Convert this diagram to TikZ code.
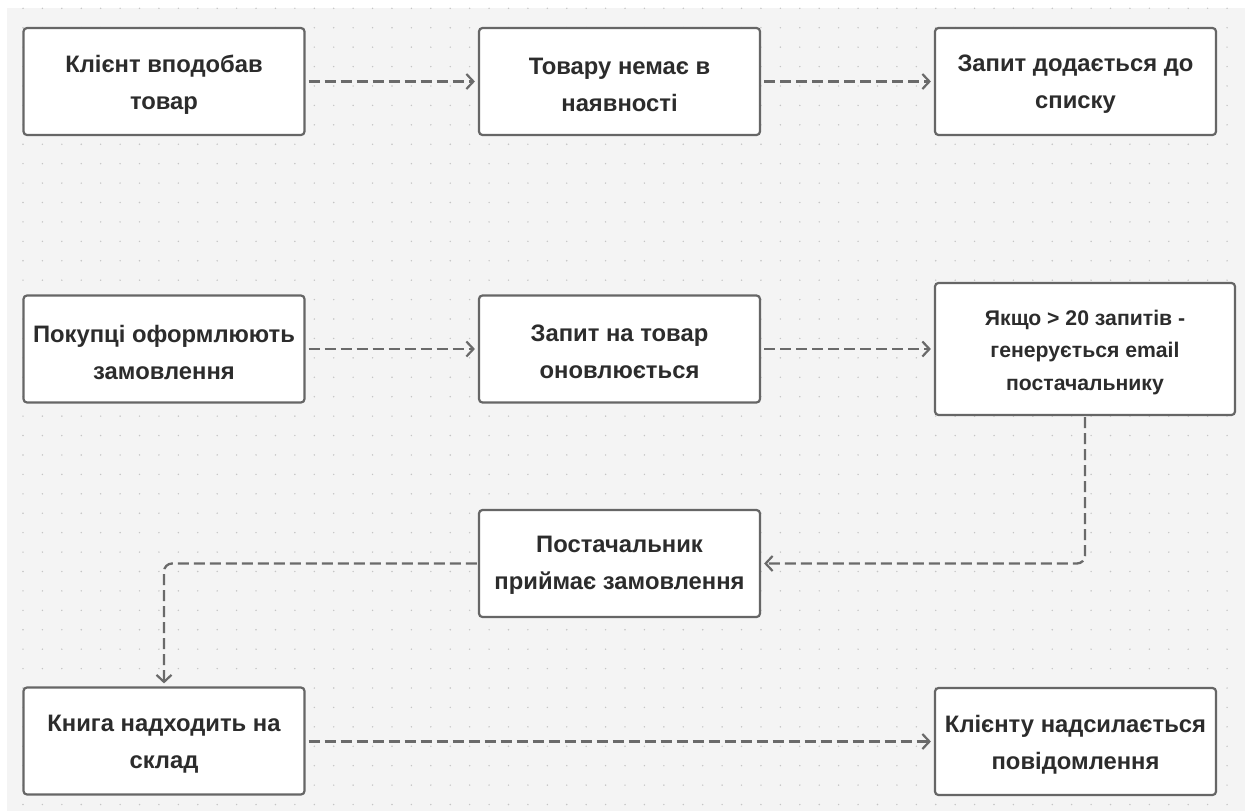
\documentclass[tikz,border=0pt]{standalone}
\usepackage{fontspec}
\setmainfont{Liberation Sans}
\usetikzlibrary{arrows.meta}
\definecolor{bggrey}{HTML}{F4F4F4}
\definecolor{dotgrey}{HTML}{C4C4C4}
\definecolor{edgegrey}{HTML}{666666}
\definecolor{linegrey}{HTML}{6A6A6A}
\definecolor{txt}{HTML}{2C2C2C}
\tikzset{
  box/.style={draw=edgegrey, line width=2.2pt, rounded corners=3.5pt, fill=white,
    inner sep=0pt, minimum width=281pt, minimum height=107pt},
  lbl/.style={inner sep=0pt, align=center, text=txt, font=\bfseries\fontsize{23.8}{37}\selectfont},
  smalllbl/.style={lbl, font=\bfseries\fontsize{21.2}{32.5}\selectfont},
  flow/.style={draw=linegrey, line width=2.3pt, dash pattern=on 11pt off 5pt,
    -{Straight Barb[length=7pt,width=15pt,line width=2.2pt]}, shorten >=3pt, shorten <=3pt,
    rounded corners=8pt}
}
\begin{document}
\begin{tikzpicture}[x=1pt,y=-1pt]
\useasboundingbox (0,0) rectangle (1245,811);
\fill[white] (0,0) rectangle (1245,811);
\fill[bggrey] (7,8) rectangle (1245,811);
\foreach \i in {0,...,62}{
  \foreach \j in {0,...,41}{
    \fill[dotgrey] ({23+\i*19.42},{8.3+\j*19.42}) circle (0.8pt);
  }
}
\node[box] (b1) at (164,81.5) {};
\node[box] (b2) at (619.5,81.5) {};
\node[box] (b3) at (1075.5,81.5) {};
\node[box] (b4) at (164,349) {};
\node[box] (b5) at (619.5,349) {};
\node[box, minimum width=300pt, minimum height=132pt] (b6) at (1085,349) {};
\node[box] (b7) at (619.5,563.5) {};
\node[box] (b8) at (164,741) {};
\node[box] (b9) at (1075.5,741.5) {};

\node[lbl] (t1) at ([yshift=-3pt]b1.center) {Клієнт вподобав\\товар};
\node[lbl] (t2) at ([yshift=-3pt]b2.center) {Товару немає в\\наявності};
\node[lbl] (t3) at ([yshift=-3pt]b3.center) {Запит додається до\\списку};
\node[lbl] (t4) at ([yshift=-3pt]b4.center) {Покупці оформлюють\\замовлення};
\node[lbl] (t5) at ([yshift=-3pt]b5.center) {Запит на товар\\оновлюється};
\node[smalllbl] (t6) at ([yshift=-3.5pt]b6.center) {Якщо > 20 запитів -\\генерується email\\постачальнику};
\node[lbl] (t7) at ([yshift=-2pt]b7.center) {Постачальник\\приймає замовлення};
\node[lbl] (t8) at ([yshift=-3pt]b8.center) {Книга надходить на\\склад};
\node[lbl] (t9) at ([yshift=-3pt]b9.center) {Клієнту надсилається\\повідомлення};

\draw[flow] (b1) -- (b2);
\draw[flow] (b2) -- (b3);
\draw[flow] (b4) -- (b5);
\draw[flow] (b5) -- (b6);
\draw[flow, shorten <=1pt] (b6.south) |- (b7.east);
\draw[flow, shorten <=1pt] (b7.west) -| (b8.north);
\draw[flow] (b8.east |- b9.west) -- (b9.west);
\end{tikzpicture}
\end{document}
